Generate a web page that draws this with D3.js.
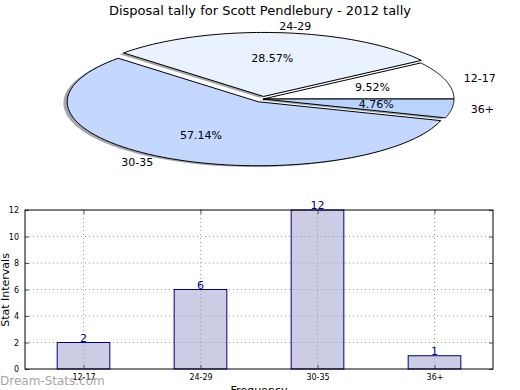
<!DOCTYPE html>
<html><head><meta charset="utf-8">
<script src="https://cdnjs.cloudflare.com/ajax/libs/d3/7.8.5/d3.min.js"></script>
<style>body{margin:0;background:#fff}svg{display:block}text{font-family:"DejaVu Sans",sans-serif}</style>
</head><body><svg id="c" width="520" height="390"></svg>
<script>
const categories = ["12-17","24-29","30-35","36+"];
const counts = [2,6,12,1];
const pieColors = ["#ffffff","#ebf2ff","#c4d8ff","#b8d4ff"];
const explode = [0,0.04,0.05,0];
const yTicks = [0,2,4,6,8,10,12];
const title = "Disposal tally for Scott Pendlebury - 2012 tally";

const svg = d3.select("#c");
svg.append("text").attr("x",260).attr("y",15).attr("text-anchor","middle").attr("font-size",13).text(title);

// ---- Pie (elliptical, matplotlib-like: CCW from east)
const cx=263, cy=99, rx=191, ry=64;
const total = d3.sum(counts);
const pie = d3.pie().sort(null).startAngle(0).endAngle(2*Math.PI)(counts);
function pt(theta, r, ox, oy){ return [cx+ox + r*rx*Math.cos(theta), cy+oy - r*ry*Math.sin(theta)]; }
function wedgePath(d, ox, oy){
  const a0=d.startAngle, a1=d.endAngle, n=80;
  const p=[[cx+ox,cy+oy]];
  for(let k=0;k<=n;k++){ p.push(pt(a0+(a1-a0)*k/n,1,ox,oy)); }
  return d3.line()(p)+"Z";
}
const mids = pie.map(d=>(d.startAngle+d.endAngle)/2);
const offs = pie.map((d,i)=>[explode[i]*rx*Math.cos(mids[i]), -explode[i]*ry*Math.sin(mids[i])]);
const g = svg.append("g");
pie.forEach((d,i)=>{
  g.append("path").attr("d",wedgePath(d,offs[i][0]-0.02*rx,offs[i][1]+0.02*ry))
   .attr("fill","#1e2027").attr("fill-opacity",0.4).attr("stroke","none");
});
pie.forEach((d,i)=>{
  g.append("path").attr("d",wedgePath(d,offs[i][0],offs[i][1]))
   .attr("fill",pieColors[i]).attr("stroke","#000").attr("stroke-width",1).attr("stroke-linejoin","round");
});
pie.forEach((d,i)=>{
  const m=mids[i];
  const [px,py]=pt(m,0.6,offs[i][0],offs[i][1]);
  g.append("text").attr("x",px).attr("y",py).attr("text-anchor","middle").attr("dominant-baseline","central")
   .attr("font-size",11).text((counts[i]/total*100).toFixed(2)+"%");
  const [lx,ly]=pt(m,1.1,offs[i][0],offs[i][1]);
  g.append("text").attr("x",lx).attr("y",ly).attr("text-anchor",Math.cos(m)>0?"start":"end").attr("dominant-baseline","central")
   .attr("font-size",11).text(categories[i]);
});

// ---- Bar chart
const L=25,R=493,T=210,B=369;
const x = d3.scaleLinear().domain([-0.5,3.5]).range([L,R]);
const y = d3.scaleLinear().domain([0,12]).range([B,T]);
const bw = (x(1)-x(0))*0.45;
const bg = svg.append("g");
yTicks.forEach(t=>{ if(t>0&&t<12) bg.append("line").attr("x1",L).attr("x2",R).attr("y1",y(t)).attr("y2",y(t))
  .attr("stroke","#999").attr("stroke-width",1).attr("stroke-dasharray","1,3"); });
categories.forEach((c,i)=>{ bg.append("line").attr("x1",x(i)).attr("x2",x(i)).attr("y1",T).attr("y2",B)
  .attr("stroke","#999").attr("stroke-width",1).attr("stroke-dasharray","1,3"); });
bg.selectAll("rect.bar").data(counts).join("rect").attr("class","bar")
  .attr("x",(d,i)=>x(i)-bw/2).attr("y",d=>y(d)).attr("width",bw).attr("height",d=>y(0)-y(d))
  .attr("fill","rgba(153,153,204,0.5)").attr("stroke","#000080").attr("stroke-width",1);
const ya = d3.axisLeft(y).tickValues(yTicks).tickSize(-4).tickPadding(6);
bg.append("g").attr("transform",`translate(${L},0)`).call(ya)
  .call(s=>{s.select(".domain").remove(); s.selectAll("text").attr("font-size",8).attr("font-family","DejaVu Sans"); s.selectAll("line").attr("stroke","#555");});
bg.append("g").attr("transform",`translate(${R},0)`).call(d3.axisRight(y).tickValues(yTicks).tickSize(-4).tickFormat(""))
  .call(s=>{s.select(".domain").remove(); s.selectAll("line").attr("stroke","#555");});
const xa = d3.axisBottom(x).tickValues([0,1,2,3]).tickFormat(i=>categories[i]).tickSize(-4).tickPadding(5);
bg.append("g").attr("transform",`translate(0,${B})`).call(xa)
  .call(s=>{s.select(".domain").remove(); s.selectAll("text").attr("font-size",8).attr("font-family","DejaVu Sans"); s.selectAll("line").attr("stroke","#555");});
bg.append("g").attr("transform",`translate(0,${T})`).call(d3.axisTop(x).tickValues([0,1,2,3]).tickSize(-4).tickFormat(""))
  .call(s=>{s.select(".domain").remove(); s.selectAll("line").attr("stroke","#555");});
bg.append("rect").attr("x",L).attr("y",T).attr("width",R-L).attr("height",B-T).attr("fill","none").attr("stroke","#000").attr("stroke-width",1);
bg.selectAll("text.val").data(counts).join("text").attr("class","val")
  .attr("x",(d,i)=>x(i)).attr("y",d=>y(d)-1).attr("text-anchor","middle").attr("font-size",11).attr("fill","#00008b").text(d=>d);
svg.append("text").attr("transform","translate(9,290) rotate(-90)").attr("text-anchor","middle").attr("font-size",11).text("Stat Intervals");
svg.append("text").attr("x",259).attr("y",394).attr("text-anchor","middle").attr("font-size",11).text("Frequency");
svg.append("text").attr("x",0).attr("y",385).attr("font-size",12).attr("fill","#999").attr("fill-opacity",0.9).text("Dream-Stats.com");
</script></body></html>
